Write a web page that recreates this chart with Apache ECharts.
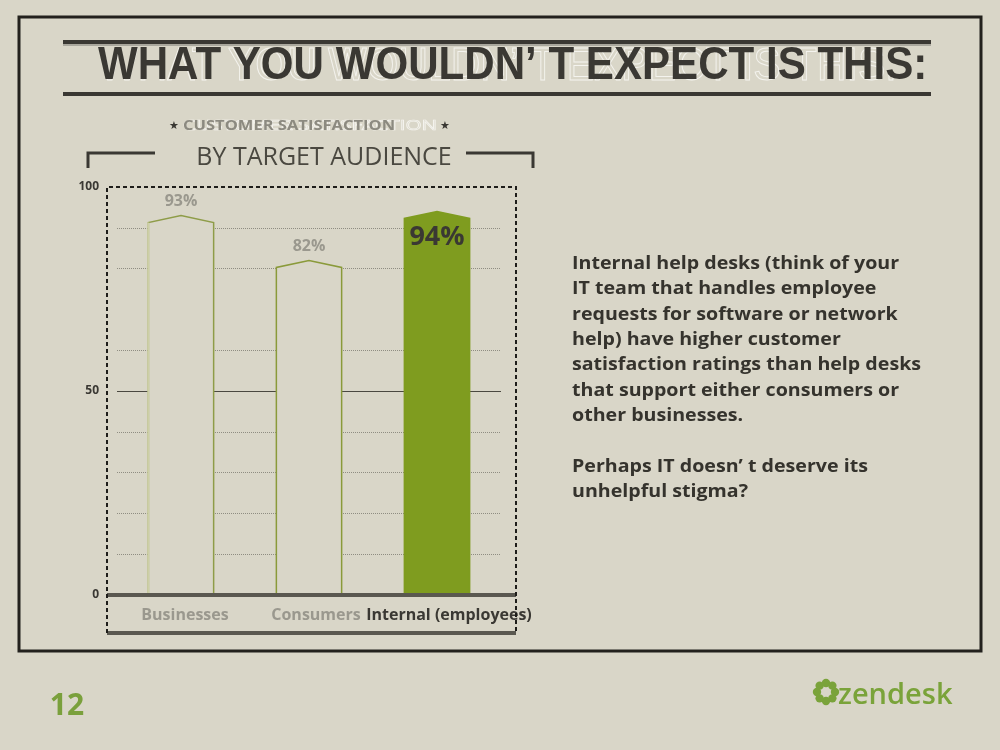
<!DOCTYPE html>
<html>
<head>
<meta charset="utf-8">
<script src="https://cdn.jsdelivr.net/npm/echarts@6/dist/echarts.min.js"></script>
<style>
  html, body { margin: 0; padding: 0; background: #d9d6c8; }
  #chart { width: 1000px; height: 750px; }
</style>
</head>
<body>
<div id="chart"></div>
<script>
// data
var categories = ['Businesses', 'Consumers', 'Internal (employees)'];
var satisfaction = [93, 82, 94];
var yTicks = [0, 50, 100];
var noteLines = [
  'Internal help desks (think of your',
  'IT team that handles employee',
  'requests for software or network',
  'help) have higher customer',
  'satisfaction ratings than help desks',
  'that support either consumers or',
  'other businesses.',
  '',
  'Perhaps IT doesn\u2019 t deserve its',
  'unhelpful stigma?'
];

var BG = '#d9d6c8';
var DARK = '#3a3833';
var GREEN = '#7f9c1f';

var chart = echarts.init(document.getElementById('chart'));

// bar look per category
var barFill = [BG, BG, GREEN];
var barStroke = ['#8e9c48', '#8a9a3a', GREEN];
var labelColor = ['#9a988e', '#9a988e', DARK];
var labelShift = [8, 14, 24];

function renderItem(params, api) {
  var i = params.dataIndex;
  var val = api.value(1);
  var base = api.coord([i, 0]);
  var top = api.coord([i, val]);
  var bw = api.size([1, 0])[0] * 0.51;
  var x0 = base[0] - bw / 2, x1 = base[0] + bw / 2;
  var sh = top[1] + 7;
  var pts = [[x0, base[1]], [x0, sh], [base[0], top[1]], [x1, sh], [x1, base[1]]];
  var kids = [{
    type: 'polygon',
    shape: { points: pts },
    style: { fill: barFill[i], stroke: barStroke[i], lineWidth: 1.5 }
  }];
  if (i === 0) {
    // lighter left edge on the first bar
    kids.push({
      type: 'line',
      shape: { x1: x0, y1: base[1], x2: x0, y2: sh },
      style: { stroke: '#cdcfa6', lineWidth: 2 }
    });
  }
  var inside = i === 2;
  kids.push({
    type: 'text',
    style: {
      text: val + '%',
      x: base[0],
      y: inside ? top[1] + 26 : top[1] - 14,
      textAlign: 'center',
      textVerticalAlign: 'middle',
      fill: labelColor[i],
      fontFamily: 'Open Sans',
      fontWeight: 'bold',
      fontSize: inside ? 27 : 16
    }
  });
  return { type: 'group', children: kids };
}

// split lines: dotted every 10, except 0, 50, 70 and 100
var splitColors = [];
for (var v = 0; v <= 100; v += 10) {
  splitColors.push((v === 0 || v === 50 || v === 70 || v === 100) ? 'rgba(0,0,0,0)' : '#8f8d82');
}

// rich styles for the category labels
var catRich = {};
categories.forEach(function (c, i) {
  catRich['c' + i] = {
    color: labelColor[i],
    padding: [0, 0, 0, labelShift[i]],
    fontFamily: 'Open Sans',
    fontWeight: 'bold',
    fontSize: 16
  };
});

var titleText = 'WHAT YOU WOULDN\u2019 T EXPECT IS THIS:';

var noteTexts = noteLines.map(function (t, k) {
  return {
    type: 'text',
    x: 572,
    y: 264 + k * 25.3,
    scaleX: 1.09,
    style: { text: t, x: 0, y: 0, textVerticalAlign: 'middle', fill: '#35332d', fontFamily: 'Open Sans', fontWeight: 'bold', fontSize: 18 }
  };
});

// zendesk mark: ring of small blobs
var logoBlobs = [];
for (var a = 0; a < 8; a++) {
  var ang = a * Math.PI / 4;
  logoBlobs.push({
    type: 'circle',
    shape: { cx: 826 + Math.cos(ang) * 9, cy: 692 + Math.sin(ang) * 9, r: 4.2 },
    style: { fill: '#7aa33a' }
  });
}

var option = {
  backgroundColor: BG,
  animation: false,
  grid: { left: 117, right: 499, top: 187, bottom: 155 },
  xAxis: {
    type: 'category',
    data: categories,
    axisLine: { show: true, lineStyle: { color: '#5a5850', width: 4 } },
    axisTick: { show: false },
    axisLabel: {
      interval: 0,
      hideOverlap: false,
      margin: 12,
      formatter: function (val, idx) { return '{c' + idx + '|' + val + '}'; },
      rich: catRich
    },
    z: 5
  },
  yAxis: {
    type: 'value',
    min: 0,
    max: 100,
    interval: 10,
    axisLine: { show: false },
    axisTick: { show: false },
    axisLabel: {
      margin: 18,
      fontFamily: 'Open Sans',
      fontWeight: 'bold',
      fontSize: 12,
      color: DARK,
      formatter: function (v) { return yTicks.indexOf(v) >= 0 ? String(v) : ''; }
    },
    splitLine: { show: true, lineStyle: { color: splitColors, type: 'dotted', width: 1 } }
  },
  series: [{
    type: 'custom',
    renderItem: renderItem,
    data: satisfaction.map(function (s, i) { return [i, s]; }),
    z: 3,
    markLine: {
      silent: true,
      symbol: 'none',
      label: { show: false },
      lineStyle: { color: '#4a4840', type: 'solid', width: 1 },
      data: [{ yAxis: 50 }],
      z: 1
    }
  }],
  graphic: [
    // outer frame
    { type: 'rect', shape: { x: 19, y: 17, width: 962, height: 634 }, style: { fill: 'none', stroke: '#23211d', lineWidth: 3 }, z: 0 },
    // title rules
    { type: 'rect', shape: { x: 63, y: 40, width: 868, height: 4 }, style: { fill: DARK } },
    { type: 'rect', shape: { x: 63, y: 44, width: 868, height: 2 }, style: { fill: '#a9a79d' } },
    { type: 'rect', shape: { x: 63, y: 92, width: 868, height: 4 }, style: { fill: DARK } },
    // title with ghost outline
    { type: 'text', x: 99, y: 67, scaleX: 0.89,
      style: { text: titleText, x: 0, y: 0, textVerticalAlign: 'middle', fill: 'none', stroke: '#f4f3ee', lineWidth: 1, fontFamily: 'Liberation Sans', fontSize: 46 } },
    { type: 'text', x: 98, y: 66, scaleX: 0.915,
      style: { text: titleText, x: 0, y: 0, textVerticalAlign: 'middle', fill: DARK, fontFamily: 'Liberation Sans', fontWeight: 'bold', fontSize: 46 } },
    // subtitle
    { type: 'text', style: { text: '\u2605', x: 174, y: 126, textAlign: 'center', textVerticalAlign: 'middle', fill: DARK, fontSize: 11 } },
    { type: 'text', style: { text: '\u2605', x: 445, y: 126, textAlign: 'center', textVerticalAlign: 'middle', fill: DARK, fontSize: 11 } },
    { type: 'text', x: 183, y: 126, scaleX: 1.48,
      style: { text: 'CUSTOMER SATISFACTION', x: 0, y: 0, textVerticalAlign: 'middle', fill: 'none', stroke: '#f4f3ee', lineWidth: 0.7, fontFamily: 'Open Sans', fontSize: 14 } },
    { type: 'text', x: 183, y: 126, scaleX: 1.18,
      style: { text: 'CUSTOMER SATISFACTION', x: 0, y: 0, textVerticalAlign: 'middle', fill: '#8c8a80', fontFamily: 'Open Sans', fontWeight: 'bold', fontSize: 14 } },
    { type: 'text', style: { text: 'BY TARGET AUDIENCE', x: 324, y: 158, textAlign: 'center', textVerticalAlign: 'middle', fill: '#4a4840', fontFamily: 'Open Sans', fontSize: 25 } },
    // brackets
    { type: 'polyline', shape: { points: [[88, 168], [88, 153], [155, 153]] }, style: { stroke: DARK, lineWidth: 3, fill: 'none' } },
    { type: 'polyline', shape: { points: [[466, 153], [533, 153], [533, 168]] }, style: { stroke: DARK, lineWidth: 3, fill: 'none' } },
    // dashed plot frame
    { type: 'polyline', shape: { points: [[107, 633], [107, 187], [516, 187], [516, 633]] }, style: { stroke: '#1e1d1a', lineWidth: 2, lineDash: [4, 3], fill: 'none' }, z: 10 },
    { type: 'line', shape: { x1: 107, y1: 633, x2: 516, y2: 633 }, style: { stroke: '#5a5850', lineWidth: 4 } },
    { type: 'line', shape: { x1: 107, y1: 595, x2: 117, y2: 595 }, style: { stroke: '#5a5850', lineWidth: 4 } },
    { type: 'line', shape: { x1: 501, y1: 595, x2: 516, y2: 595 }, style: { stroke: '#5a5850', lineWidth: 4 } },
    // page number and logo
    { type: 'text', style: { text: '12', x: 67, y: 706, textAlign: 'center', textVerticalAlign: 'middle', fill: '#7aa03c', fontFamily: 'Open Sans', fontWeight: 'bold', fontSize: 30 } },
    { type: 'text', style: { text: 'zendesk', x: 838, y: 696, textVerticalAlign: 'middle', fill: '#7aa33a', fontFamily: 'Open Sans', fontWeight: 600, fontSize: 29 } }
  ].concat(noteTexts, logoBlobs)
};

chart.setOption(option);
</script>
</body>
</html>
